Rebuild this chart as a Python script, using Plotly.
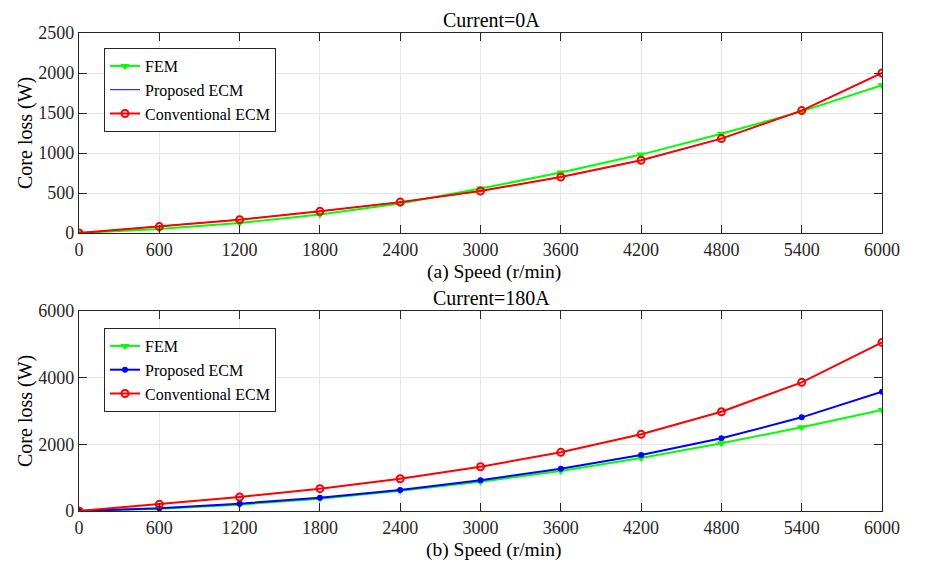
import plotly.graph_objects as go

speed = [0, 600, 1200, 1800, 2400, 3000, 3600, 4200, 4800, 5400, 6000]

# Current = 0 A
fem_0a = [0, 50, 125, 230, 370, 555, 755, 980, 1240, 1520, 1846]
prop_0a = [0, 80, 167, 271, 386, 525, 700, 909, 1180, 1530, 2000]
conv_0a = [0, 80, 167, 271, 386, 525, 700, 909, 1180, 1530, 2000]

# Current = 180 A
fem_180a = [0, 70, 190, 370, 610, 880, 1200, 1590, 2030, 2510, 3030]
prop_180a = [0, 80, 220, 400, 630, 920, 1270, 1680, 2180, 2810, 3580]
conv_180a = [0, 200, 420, 670, 968, 1329, 1760, 2300, 2978, 3859, 5058]

x_ticks = [0, 600, 1200, 1800, 2400, 3000, 3600, 4200, 4800, 5400, 6000]
y_ticks_0a = [0, 500, 1000, 1500, 2000, 2500]
y_ticks_180a = [0, 2000, 4000, 6000]

GREEN = "#00ff00"
BLUE = "#0000ff"
RED = "#ff0000"
FONT = "Liberation Serif"
TXT = "#262626"

fig = go.Figure()

def add_series(xa, ya, fem, prop, conv, show_prop_markers, legend):
    fig.add_trace(go.Scatter(x=speed, y=fem, name="FEM", xaxis=xa, yaxis=ya, mode="lines+markers",
                             line=dict(color=GREEN, width=2),
                             marker=dict(symbol="triangle-down", size=8, color=GREEN),
                             legend=legend))
    if show_prop_markers:
        fig.add_trace(go.Scatter(x=speed, y=prop, name="Proposed ECM", xaxis=xa, yaxis=ya, mode="lines+markers",
                                 line=dict(color=BLUE, width=2),
                                 marker=dict(symbol="circle", size=6, color=BLUE),
                                 legend=legend))
    else:
        fig.add_trace(go.Scatter(x=speed, y=prop, name="Proposed ECM", xaxis=xa, yaxis=ya, mode="lines",
                                 line=dict(color=BLUE, width=1),
                                 legend=legend))
    fig.add_trace(go.Scatter(x=speed, y=conv, name="Conventional ECM", xaxis=xa, yaxis=ya, mode="lines+markers",
                             line=dict(color=RED, width=2),
                             marker=dict(symbol="circle-open", size=7, color=RED, line=dict(width=2, color=RED)),
                             legend=legend))

add_series("x", "y", fem_0a, prop_0a, conv_0a, False, "legend")
add_series("x2", "y2", fem_180a, prop_180a, conv_180a, True, "legend2")

axis_common = dict(
    showline=True, linecolor=TXT, linewidth=1.2, mirror="ticks",
    ticks="inside", ticklen=8, tickcolor=TXT, tickwidth=1.2,
    showgrid=True, gridcolor="#e6e6e6", gridwidth=1,
    zeroline=False, tickfont=dict(family=FONT, size=18, color=TXT),
)

H = 478.0
top_dom = [1 - 200 / H, 1]
bot_dom = [0, 200 / H]

def py(pix):
    return (511 - pix) / H

def px(pix):
    return (pix - 79) / 803.0

legend_common = dict(xanchor="left", yanchor="top", bgcolor="white",
                     bordercolor=TXT, borderwidth=1, font=dict(family=FONT, size=16, color="black"),
                     tracegroupgap=0, itemwidth=30)

ann_font = dict(family=FONT, size=20, color="black")

fig.update_layout(
    width=925, height=563,
    margin=dict(l=71, r=51, t=25, b=60),
    paper_bgcolor="white", plot_bgcolor="white",
    font=dict(family=FONT, size=18, color=TXT),
    xaxis=dict(**axis_common, range=[0, 6000], tickvals=x_ticks, domain=[0, 1], anchor="y"),
    yaxis=dict(**axis_common, range=[0, 2500], tickvals=y_ticks_0a, domain=top_dom, anchor="x"),
    xaxis2=dict(**axis_common, range=[0, 6000], tickvals=x_ticks, domain=[0, 1], anchor="y2"),
    yaxis2=dict(**axis_common, range=[0, 6000], tickvals=y_ticks_180a, domain=bot_dom, anchor="x2"),
    legend=dict(**legend_common, x=px(104), y=py(48)),
    legend2=dict(**legend_common, x=px(104), y=py(328)),
    annotations=[
        dict(text="Current=0A", x=px(491), y=py(20), xref="paper", yref="paper",
             xanchor="center", yanchor="middle", showarrow=False, font=ann_font),
        dict(text="Current=180A", x=px(491), y=py(298), xref="paper", yref="paper",
             xanchor="center", yanchor="middle", showarrow=False, font=ann_font),
        dict(text="(a) Speed (r/min)", x=px(494), y=py(272), xref="paper", yref="paper",
             xanchor="center", yanchor="middle", showarrow=False, font=dict(family=FONT, size=19.5, color="black")),
        dict(text="(b) Speed (r/min)", x=px(494), y=py(550), xref="paper", yref="paper",
             xanchor="center", yanchor="middle", showarrow=False, font=dict(family=FONT, size=19.5, color="black")),
        dict(text="Core loss (W)", x=px(25), y=py(133), xref="paper", yref="paper", textangle=-90,
             xanchor="center", yanchor="middle", showarrow=False, font=ann_font),
        dict(text="Core loss (W)", x=px(25), y=py(411), xref="paper", yref="paper", textangle=-90,
             xanchor="center", yanchor="middle", showarrow=False, font=ann_font),
    ],
)

fig.write_html("out.html")
